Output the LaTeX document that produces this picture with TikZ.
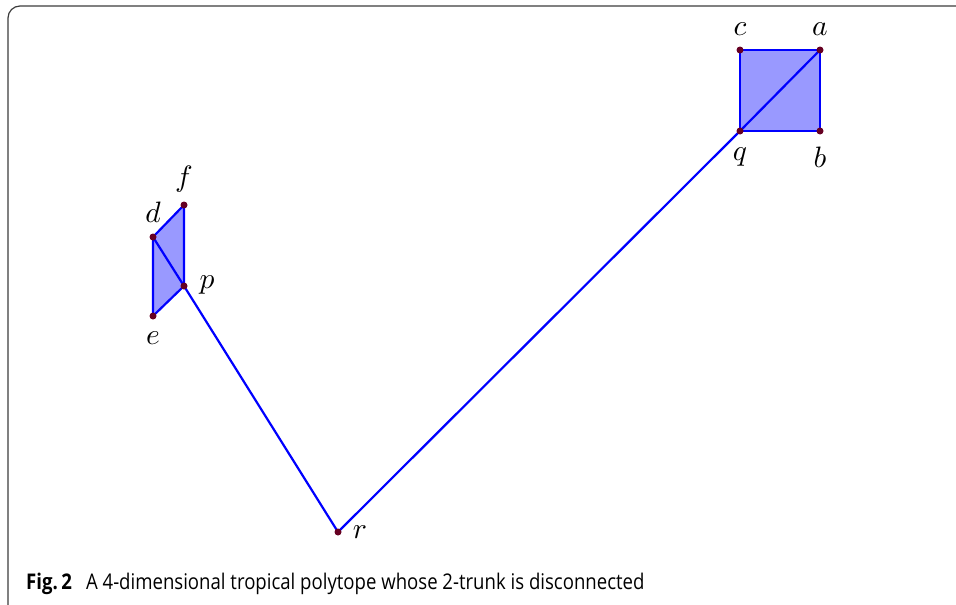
\documentclass[tikz,border=0pt]{standalone}
\usepackage{fontspec}
\newfontfamily\capfont[FakeStretch=0.86]{Open Sans}
\newcommand{\biglab}[1]{\scalebox{2.95}{$#1$}}
\begin{document}
\begin{tikzpicture}[x=1pt,y=-1pt,
  edge/.style={draw={rgb,255:red,0;green,0;blue,255},line width=2.2pt,line join=round},
  face/.style={fill={rgb,255:red,153;green,153;blue,255}},
  pt/.style={circle,fill={rgb,255:red,102;green,0;blue,34},inner sep=0pt,minimum size=7pt},
  lab/.style={inner sep=0pt}]
\useasboundingbox (0,0) rectangle (956,605);
\begin{scope}
\clip (0,0) rectangle (956,605);
\draw[line width=1.2pt,draw={rgb,255:red,60;green,60;blue,60},rounded corners=12pt] (8,6) rectangle (1000,625);
\end{scope}
% points
\coordinate (c) at (740,50);
\coordinate (a) at (820,50);
\coordinate (q) at (740,131);
\coordinate (b) at (820,131);
\coordinate (f) at (184,205);
\coordinate (d) at (153,237);
\coordinate (p) at (184,286);
\coordinate (e) at (153,316);
\coordinate (r) at (338,532);
% faces
\fill[face] (c) -- (a) -- (b) -- (q) -- cycle;
\fill[face] (d) -- (f) -- (p) -- (e) -- cycle;
% edges
\draw[edge] (c) -- (a) -- (b) -- (q) -- cycle;
\draw[edge] (q) -- (a);
\draw[edge] (d) -- (f) -- (p) -- (e) -- cycle;
\draw[edge] (d) -- (p);
\draw[edge] (p) -- (r) -- (q);
% vertex dots
\foreach \v in {a,b,c,q,d,e,f,p,r} \node[pt] (n\v) at (\v) {};
% labels
\node[lab] (lc) at (740,29) {\biglab{c}};
\node[lab] (la) at (820,29) {\biglab{a}};
\node[lab] (lq) at (740,157) {\biglab{q}};
\node[lab] (lb) at (820,157) {\biglab{b}};
\node[lab] (lf) at (184,179) {\biglab{f}};
\node[lab] (ld) at (153,212) {\biglab{d}};
\node[lab] (lp) at (207,285) {\biglab{p}};
\node[lab] (le) at (153,338) {\biglab{e}};
\node[lab] (lr) at (360,532) {\biglab{r}};
% caption
\node[anchor=base west,inner sep=0pt,font=\capfont\fontsize{21.6}{24}\selectfont] (cap) at (26,589)
  {\textbf{Fig.\,2}\hspace{14pt}A 4-dimensional tropical polytope whose 2-trunk is disconnected};
\end{tikzpicture}
\end{document}
